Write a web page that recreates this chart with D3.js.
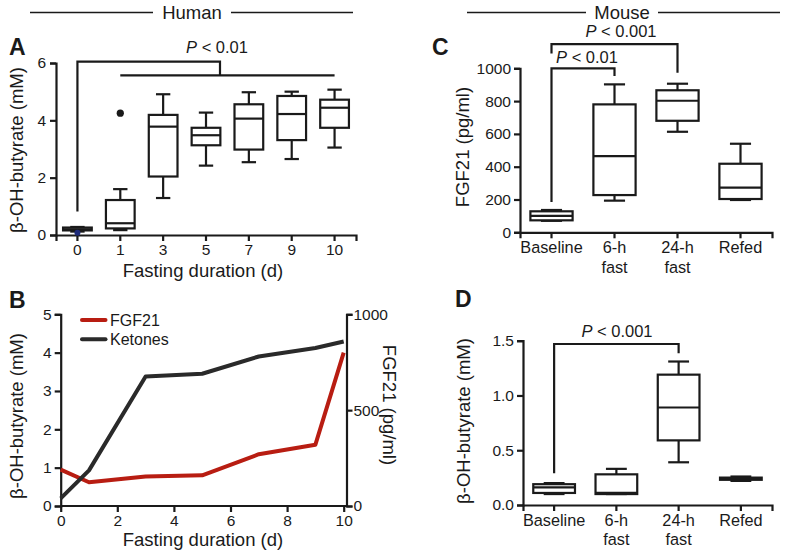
<!DOCTYPE html>
<html>
<head>
<meta charset="utf-8">
<script src="https://cdn.jsdelivr.net/npm/d3@7"></script>
<style>
  html, body { margin: 0; padding: 0; background: #fff; }
  svg { display: block; }
  text { font-family: "Liberation Sans", Arial, Helvetica, sans-serif; fill: #1a1a1a; }
</style>
</head>
<body>
<svg id="chart" width="786" height="555"></svg>
<script>
// ---------------- DATA ----------------
// Panel A: human, beta-OH-butyrate (mM) box plots by fasting day
const humanDays = ["0", "1", "3", "5", "7", "9", "10"];
const humanMin    = [0.12, 0.17, 1.29, 2.42, 2.54, 2.65, 3.05];
const humanQ1     = [0.16, 0.23, 2.04, 3.13, 2.98, 3.31, 3.74];
const humanMedian = [0.20, 0.41, 3.78, 3.48, 4.06, 4.22, 4.44];
const humanQ3     = [0.26, 1.22, 4.19, 3.74, 4.56, 4.85, 4.72];
const humanMax    = [0.28, 1.60, 4.91, 4.27, 4.98, 5.00, 5.07];
const humanOutlierDay = ["1"];
const humanOutlierValue = [4.25];
const humanBlueDotDay = ["0"];
const humanBlueDotValue = [0.08];
const humanYTicks = [0, 2, 4, 6];

// Panel B: human means over fasting duration
const bDays = [0, 1, 3, 5, 7, 9, 10];
const ketones = [0.20, 0.93, 3.38, 3.45, 3.90, 4.12, 4.29];   // mM (left axis)
const fgf21Human = [190, 124, 154, 160, 270, 320, 800];        // pg/ml (right axis)
const bXTicks = [0, 2, 4, 6, 8, 10];
const bLeftTicks = [0, 1, 2, 3, 4, 5];
const bRightTicks = [0, 500, 1000];

// Panel C: mouse FGF21 (pg/ml)
const mouseGroups = ["Baseline", "6-h fast", "24-h fast", "Refed"];
const cMin    = [70, 193, 613, 197];
const cQ1     = [73, 227, 680, 203];
const cMedian = [100, 465, 802, 272];
const cQ3     = [128, 780, 866, 418];
const cMax    = [136, 902, 906, 540];
const cYTicks = [0, 200, 400, 600, 800, 1000];

// Panel D: mouse beta-OH-butyrate (mM)
const dMin    = [0.10, 0.10, 0.39, 0.22];
const dQ1     = [0.11, 0.10, 0.59, 0.23];
const dMedian = [0.16, 0.11, 0.89, 0.24];
const dQ3     = [0.19, 0.28, 1.19, 0.25];
const dMax    = [0.20, 0.33, 1.31, 0.26];
const dYTicks = [0, 0.5, 1.0, 1.5];

// ---------------- DRAWING ----------------
const svg = d3.select("#chart");
const INK = "#1a1a1a";
const TICK_FONT = "15.5px";
const TITLE_FONT = "18.5px";
const intFmt = d3.format("d");

function styleAxis(g) {
  g.selectAll("path.domain").attr("stroke", INK).attr("stroke-width", 2.2);
  g.selectAll(".tick line").attr("stroke", INK).attr("stroke-width", 2.2);
  g.selectAll(".tick text").attr("fill", INK).style("font-size", TICK_FONT)
    .style("font-family", '"Liberation Sans", Arial, Helvetica, sans-serif');
}

function zip(cats, mn, q1, md, q3, mx) {
  return cats.map((c, i) => ({ cat: c, min: mn[i], q1: q1[i], med: md[i], q3: q3[i], max: mx[i] }));
}

function drawBoxes(g, data, x, y) {
  const bw = x.bandwidth() * 0.67;
  const cw = bw / 2;
  const grp = g.append("g").attr("stroke", INK).attr("stroke-width", 2.2).attr("fill", "none");
  data.forEach(d => {
    const cx = x(d.cat) + x.bandwidth() / 2;
    grp.append("line").attr("x1", cx).attr("x2", cx).attr("y1", y(d.max)).attr("y2", y(d.q3));
    grp.append("line").attr("x1", cx).attr("x2", cx).attr("y1", y(d.q1)).attr("y2", y(d.min));
    grp.append("line").attr("x1", cx - cw / 2).attr("x2", cx + cw / 2).attr("y1", y(d.max)).attr("y2", y(d.max));
    grp.append("line").attr("x1", cx - cw / 2).attr("x2", cx + cw / 2).attr("y1", y(d.min)).attr("y2", y(d.min));
    grp.append("rect").attr("x", cx - bw / 2).attr("width", bw)
      .attr("y", y(d.q3)).attr("height", Math.max(0.5, y(d.q1) - y(d.q3)))
      .attr("fill", "#fff");
    grp.append("line").attr("x1", cx - bw / 2).attr("x2", cx + bw / 2).attr("y1", y(d.med)).attr("y2", y(d.med));
  });
}

function pText(g, x, y, rest) {
  const t = g.append("text").attr("x", x).attr("y", y).attr("text-anchor", "middle")
    .style("font-size", "16.5px");
  t.append("tspan").style("font-style", "italic").text("P");
  t.append("tspan").text(" < " + rest);
  return t;
}

function panelLetter(x, y, s) {
  svg.append("text").attr("x", x).attr("y", y).text(s)
    .style("font-size", "23px").style("font-weight", "bold").attr("fill", INK);
}

function yTitle(x, y, s, rot) {
  svg.append("text").attr("transform", `translate(${x},${y}) rotate(${rot})`)
    .attr("text-anchor", "middle").style("font-size", TITLE_FONT).text(s);
}

function header(x1, x2, cx, label, halfGap) {
  svg.append("line").attr("x1", x1).attr("x2", cx - halfGap).attr("y1", 12.5).attr("y2", 12.5)
    .attr("stroke", INK).attr("stroke-width", 1.5);
  svg.append("line").attr("x1", cx + halfGap).attr("x2", x2).attr("y1", 12.5).attr("y2", 12.5)
    .attr("stroke", INK).attr("stroke-width", 1.5);
  svg.append("text").attr("x", cx).attr("y", 19).attr("text-anchor", "middle")
    .style("font-size", TITLE_FONT).text(label);
}
header(30, 353, 192, "Human", 39);
header(467, 780, 622, "Mouse", 36);

// ===== Panel A =====
(function () {
  const g = svg.append("g");
  const x = d3.scaleBand().domain(humanDays).range([56, 356]);
  const y = d3.scaleLinear().domain([0, 6]).range([235, 63]);
  g.append("g").attr("transform", "translate(0,235)")
    .call(d3.axisBottom(x).tickSizeOuter(0).tickSize(6).tickPadding(3)).call(styleAxis);
  g.append("g").attr("transform", "translate(56,0)")
    .call(d3.axisLeft(y).tickValues(humanYTicks).tickFormat(intFmt).tickSizeOuter(0).tickSize(6).tickPadding(4)).call(styleAxis);
  drawBoxes(g, zip(humanDays, humanMin, humanQ1, humanMedian, humanQ3, humanMax), x, y);
  const cx = c => x(c) + x.bandwidth() / 2;
  humanOutlierDay.forEach((c, i) => {
    g.append("circle").attr("cx", cx(c)).attr("cy", y(humanOutlierValue[i])).attr("r", 3.6).attr("fill", INK);
  });
  humanBlueDotDay.forEach((c, i) => {
    g.append("circle").attr("cx", cx(c)).attr("cy", y(humanBlueDotValue[i])).attr("r", 3).attr("fill", "#1d2a7a");
  });
  const br = g.append("g").attr("stroke", INK).attr("stroke-width", 2.2).attr("fill", "none");
  const topY = y(6.05), lowY = y(5.57);
  const midX = 220;
  br.append("path").attr("d", `M${cx("0")},${y(0.82)} V${topY} H${midX} V${lowY}`);
  br.append("line").attr("x1", cx("1")).attr("x2", cx("10")).attr("y1", lowY).attr("y2", lowY);
  pText(g, 217, 53, "0.01");
  yTitle(23, 150, "β-OH-butyrate (mM)", -90);
  svg.append("text").attr("x", 203).attr("y", 277).attr("text-anchor", "middle")
    .style("font-size", TITLE_FONT).text("Fasting duration (d)");
  panelLetter(9, 55, "A");
})();

// ===== Panel B =====
(function () {
  const g = svg.append("g");
  const x = d3.scaleLinear().domain([0, 10]).range([60.7, 343.7]);
  const yL = d3.scaleLinear().domain([0, 5]).range([506, 314.3]);
  const yR = d3.scaleLinear().domain([0, 1000]).range([506, 314.3]);
  const xa = g.append("g").attr("transform", "translate(0,506)")
    .call(d3.axisBottom(x).tickValues(bXTicks).tickFormat(intFmt).tickSizeOuter(0).tickSize(6).tickPadding(3)).call(styleAxis);
  xa.select("path.domain").attr("d", "M60.7,0H346.5");
  g.append("g").attr("transform", "translate(60.7,0)")
    .call(d3.axisLeft(yL).tickValues(bLeftTicks).tickFormat(intFmt).tickSizeOuter(0).tickSize(6).tickPadding(3)).call(styleAxis);
  g.append("g").attr("transform", "translate(346.5,0)")
    .call(d3.axisRight(yR).tickValues(bRightTicks).tickFormat(intFmt).tickSizeOuter(0).tickSize(6).tickPadding(1)).call(styleAxis);

  const lineK = d3.line().x((d, i) => x(bDays[i])).y(d => yL(d));
  const lineF = d3.line().x((d, i) => x(bDays[i])).y(d => yR(d));
  g.append("path").datum(fgf21Human).attr("d", lineF).attr("fill", "none")
    .attr("stroke", "#b81d12").attr("stroke-width", 4).attr("stroke-linejoin", "round");
  g.append("path").datum(ketones).attr("d", lineK).attr("fill", "none")
    .attr("stroke", "#2a2a2a").attr("stroke-width", 4).attr("stroke-linejoin", "round");

  const legend = [["FGF21", "#b81d12"], ["Ketones", "#2a2a2a"]];
  legend.forEach((d, i) => {
    const ly = 320 + i * 19.3;
    g.append("line").attr("x1", 82).attr("x2", 105.5).attr("y1", ly).attr("y2", ly)
      .attr("stroke", d[1]).attr("stroke-width", 4).attr("stroke-linecap", "round");
    g.append("text").attr("x", 110).attr("y", ly + 5.8).style("font-size", "16px").text(d[0]);
  });

  yTitle(23, 416, "β-OH-butyrate (mM)", -90);
  yTitle(383, 405, "FGF21 (pg/ml)", 90);
  svg.append("text").attr("x", 203).attr("y", 546).attr("text-anchor", "middle")
    .style("font-size", TITLE_FONT).text("Fasting duration (d)");
  panelLetter(9, 308, "B");
})();

function mouseXAxis(g, x, yPos) {
  const ax = g.append("g").attr("transform", `translate(0,${yPos})`)
    .call(d3.axisBottom(x).tickSizeOuter(0).tickSize(6).tickPadding(3)).call(styleAxis);
  ax.selectAll(".tick text").each(function (d) {
    const t = d3.select(this);
    const parts = d.split(" ");
    t.text(null).style("font-size", "16.3px");
    parts.forEach((p, i) => {
      t.append("tspan").attr("x", 0).attr("dy", i === 0 ? "0.71em" : "1.22em").text(p);
    });
  });
}

// ===== Panel C =====
(function () {
  const g = svg.append("g");
  const x = d3.scaleBand().domain(mouseGroups).range([520, 772]);
  const y = d3.scaleLinear().domain([0, 1000]).range([232.3, 68.3]);
  mouseXAxis(g, x, 232.3);
  g.append("g").attr("transform", "translate(520,0)")
    .call(d3.axisLeft(y).tickValues(cYTicks).tickFormat(intFmt).tickSizeOuter(0).tickSize(6).tickPadding(3)).call(styleAxis);
  drawBoxes(g, zip(mouseGroups, cMin, cQ1, cMedian, cQ3, cMax), x, y);
  const cx = c => x(c) + x.bandwidth() / 2;
  const br = g.append("g").attr("stroke", INK).attr("stroke-width", 2.2).attr("fill", "none");
  br.append("path").attr("d", `M${cx("Baseline")},${y(185)} V${y(1000)} H${cx("6-h fast")} V${y(953)}`);
  br.append("path").attr("d", `M${cx("Baseline")},${y(1090)} V${y(1147)} H${cx("24-h fast")} V${y(973)}`);
  pText(g, 587, 63, "0.01");
  pText(g, 621, 37, "0.001");
  yTitle(469, 147, "FGF21 (pg/ml)", -90);
  panelLetter(432, 55, "C");
})();

// ===== Panel D =====
(function () {
  const g = svg.append("g");
  const x = d3.scaleBand().domain(mouseGroups).range([523, 772]);
  const y = d3.scaleLinear().domain([0, 1.5]).range([505, 340.7]);
  mouseXAxis(g, x, 505);
  g.append("g").attr("transform", "translate(523,0)")
    .call(d3.axisLeft(y).tickValues(dYTicks).tickFormat(d3.format(".1f")).tickSizeOuter(0).tickSize(6).tickPadding(3)).call(styleAxis);
  drawBoxes(g, zip(mouseGroups, dMin, dQ1, dMedian, dQ3, dMax), x, y);
  const cx = c => x(c) + x.bandwidth() / 2;
  const br = g.append("g").attr("stroke", INK).attr("stroke-width", 2.2).attr("fill", "none");
  br.append("path").attr("d", `M${cx("Baseline")},${y(0.29)} V${y(1.47)} H${cx("24-h fast")} V${y(1.385)}`);
  pText(g, 617, 337, "0.001");
  yTitle(470, 421, "β-OH-butyrate (mM)", -90);
  panelLetter(455, 307, "D");
})();
</script>
</body>
</html>
